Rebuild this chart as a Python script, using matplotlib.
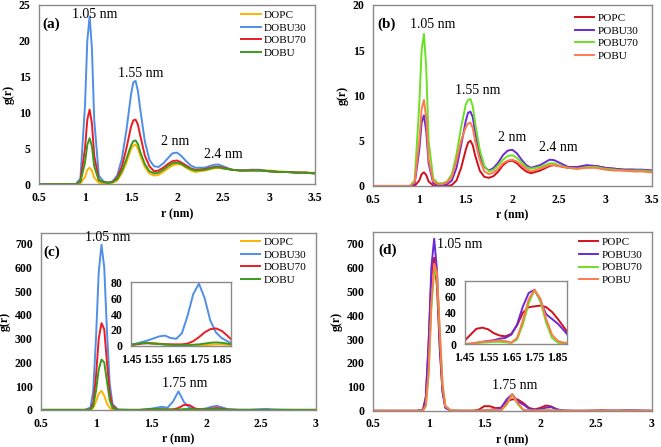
import matplotlib
matplotlib.use('Agg')
import matplotlib.pyplot as plt

plt.rcParams['font.family'] = ['Liberation Serif', 'DejaVu Serif']

# r grid for panels (a) and (b)
r_ab = [0.5, 0.9, 0.95, 1.0, 1.025, 1.05, 1.075, 1.1, 1.15, 1.2,
        1.25, 1.3, 1.35, 1.4, 1.45, 1.5, 1.525, 1.55, 1.575, 1.6,
        1.65, 1.7, 1.75, 1.8, 1.85, 1.9, 1.95, 2.0, 2.05, 2.1,
        2.15, 2.2, 2.3, 2.4, 2.45, 2.5, 2.6, 2.7, 2.8, 2.9,
        3.0, 3.1, 3.2, 3.3, 3.4, 3.5]

# (a) DO series
a_dopc = [0, 0, 0.1, 1.0, 2.0, 2.3, 1.9, 0.9, 0.2, 0.1,
          0.1, 0.2, 0.5, 1.5, 3.0, 4.9, 5.4, 5.5, 5.0, 4.0,
          2.4, 1.5, 1.2, 1.3, 1.7, 2.2, 2.6, 2.8, 2.7, 2.3,
          1.9, 1.7, 1.9, 2.2, 2.25, 2.2, 2.0, 1.9, 2.0, 2.0,
          1.9, 1.8, 1.7, 1.7, 1.6, 1.6]
a_dobu30 = [0, 0, 0.8, 11, 20, 23.4, 19, 9, 1.2, 0.4,
            0.2, 0.4, 1.2, 3.5, 7.5, 12.5, 14.2, 14.4, 13, 10.5,
            6, 3.4, 2.5, 2.4, 2.9, 3.6, 4.3, 4.4, 3.9, 3.2,
            2.6, 2.3, 2.3, 2.7, 2.75, 2.5, 2.0, 1.9, 2.0, 2.0,
            1.8, 1.7, 1.7, 1.6, 1.6, 1.5]
a_dobu70 = [0, 0, 0.4, 5, 9, 10.4, 8.5, 4, 0.6, 0.3,
            0.2, 0.3, 0.9, 2.4, 5, 8, 8.9, 9.0, 8.3, 6.8,
            4, 2.5, 1.8, 1.9, 2.3, 2.8, 3.2, 3.3, 3.0, 2.6,
            2.2, 2.0, 2.1, 2.4, 2.45, 2.3, 2.0, 1.9, 1.9, 1.9,
            1.8, 1.7, 1.7, 1.6, 1.6, 1.5]
a_dobu = [0, 0, 0.3, 3, 5.5, 6.4, 5.3, 2.5, 0.5, 0.3,
          0.2, 0.3, 0.7, 1.8, 3.5, 5.4, 6.0, 6.1, 5.6, 4.5,
          2.8, 1.8, 1.5, 1.6, 2.0, 2.5, 2.9, 3.0, 2.8, 2.4,
          2.1, 1.9, 2.0, 2.3, 2.35, 2.2, 2.0, 1.9, 1.9, 1.9,
          1.8, 1.7, 1.7, 1.6, 1.6, 1.5]

# (b) PO series
b_popc = [0, 0, 0, 0.6, 1.3, 1.5, 1.2, 0.5, 0.05, 0,
          0, 0, 0.1, 0.6, 2.0, 4.0, 4.8, 5.0, 4.5, 3.4,
          1.7, 1.0, 0.9, 1.1, 1.6, 2.3, 2.7, 2.8, 2.5, 2.0,
          1.6, 1.4, 1.7, 2.2, 2.3, 2.2, 2.0, 2.0, 2.2, 2.2,
          2.0, 1.9, 1.8, 1.8, 1.7, 1.7]
b_pobu30 = [0, 0, 0.2, 4, 7, 7.8, 6, 2.5, 0.3, 0.1,
            0.1, 0.2, 0.6, 2.0, 4.5, 7.2, 8.1, 8.2, 7.6, 6.0,
            3.4, 2.1, 1.7, 2.0, 2.6, 3.4, 3.9, 4.0, 3.6, 2.9,
            2.3, 2.0, 2.3, 2.9, 2.85, 2.6, 2.1, 2.1, 2.3, 2.2,
            2.0, 1.9, 1.8, 1.8, 1.8, 1.7]
b_pobu70 = [0, 0, 0.6, 9, 15, 16.8, 13, 5, 0.8, 0.3,
            0.3, 0.5, 1.3, 3.5, 6.5, 9.0, 9.5, 9.6, 8.8, 7.0,
            4.0, 2.2, 1.6, 1.8, 2.3, 2.9, 3.3, 3.4, 3.1, 2.6,
            2.1, 1.9, 2.1, 2.5, 2.5, 2.3, 2.0, 1.9, 2.1, 2.1,
            1.9, 1.8, 1.7, 1.7, 1.7, 1.6]
b_pobu = [0, 0, 0.4, 5, 8.5, 9.5, 7.5, 3, 0.5, 0.2,
          0.2, 0.4, 1.0, 2.8, 5, 6.5, 6.9, 7.0, 6.4, 5.0,
          2.9, 1.6, 1.3, 1.5, 1.9, 2.5, 2.8, 2.9, 2.7, 2.3,
          1.9, 1.6, 1.9, 2.3, 2.3, 2.2, 2.0, 1.9, 2.0, 2.0,
          1.8, 1.7, 1.7, 1.6, 1.6, 1.5]

# r grid for panels (c) and (d)
r_cd = [0.5, 0.9, 0.95, 0.975, 1.0, 1.025, 1.05, 1.075, 1.1, 1.125,
        1.15, 1.2, 1.3, 1.4, 1.45, 1.5, 1.55, 1.6, 1.65, 1.7,
        1.75, 1.8, 1.85, 1.9, 1.95, 2.0, 2.05, 2.1, 2.15, 2.2,
        2.3, 2.4, 2.5, 2.55, 2.6, 2.7, 2.8, 3.0]

c_dopc = [0, 0, 1, 8, 35, 68, 80, 60, 28, 8,
          2, 0, 0, 0, 1.5, 4, 3.5, 2, 1, 0.5,
          0.5, 1, 2, 1, 0.5, 1, 2, 2, 1, 0,
          0, 0, 0, 0, 0, 0, 0, 0]
c_dobu30 = [0, 0, 10, 80, 300, 580, 695, 600, 330, 110,
            25, 1, 0, 0, 2, 5, 9, 13, 9, 35,
            78, 33, 10, 3, 3, 6, 13, 17, 10, 3,
            0.5, 0.5, 3, 4, 2, 0.5, 0, 0]
c_dobu70 = [0, 0, 3, 30, 140, 300, 365, 340, 200, 70,
            15, 0.5, 0, 0, 1, 3, 3, 2, 2, 2,
            8, 21, 20, 6, 2, 3, 6, 8, 5, 1,
            0, 0, 0, 0, 0, 0, 0, 0]
c_dobu = [0, 0, 2, 15, 80, 170, 212, 200, 120, 40,
          8, 0.3, 0, 0, 1, 3.5, 3, 2, 1, 1,
          1.5, 3, 4, 2, 1, 2, 3, 3, 2, 0.5,
          0, 0, 0, 0, 0, 0, 0, 0]

d_popc = [0, 0, 5, 60, 280, 560, 640, 520, 260, 80,
          15, 0.5, 0, 0, 4.5, 19.5, 19, 11, 13, 40,
          48, 47, 32, 12, 6, 12, 22, 18, 6, 1,
          0, 0, 1, 2, 1, 0.5, 1, 0]
d_pobu30 = [0, 0, 3, 50, 280, 600, 720, 590, 280, 80,
            12, 0.5, 0, 0, 0, 1.5, 4, 7, 12, 48,
            69, 38, 26, 9, 4, 6, 13, 15, 6, 1,
            0, 0, 0.5, 1, 0.5, 0.5, 2, 0]
d_pobu70 = [0, 0, 1, 20, 150, 430, 590, 560, 330, 110,
            20, 1, 0, 0, 0, 1, 2.5, 3, 1.5, 25,
            69, 27, 2, 0, 0.5, 1, 2, 2, 0.5, 0,
            0, 0, 0, 0, 0, 0, 0, 0]
d_pobu = [0, 0, 1, 22, 160, 450, 615, 580, 340, 110,
          20, 1, 0, 0, 0, 2, 3.5, 5, 2, 30,
          69, 32, 4, 1.5, 1, 1, 2, 2, 0.5, 0,
          0, 0, 0, 0, 0, 0, 0, 0]

# insets, 1.45 - 1.9 nm
r_in = [1.45, 1.475, 1.5, 1.525, 1.55, 1.575, 1.6, 1.625, 1.65, 1.675,
        1.7, 1.725, 1.75, 1.775, 1.8, 1.825, 1.85, 1.875, 1.9]
ci_dopc = [1.5, 3, 4.5, 4, 3.5, 3, 2, 1.5, 1, 0.5,
           0.5, 0.5, 0.5, 1, 1.5, 2, 2, 1.5, 1]
ci_dobu30 = [2, 3, 5, 7, 9.5, 12, 13, 10, 9, 16,
             38, 65, 78, 60, 32, 17, 10, 6, 3]
ci_dobu70 = [1, 2, 3, 3.5, 3, 2.5, 2, 2, 2, 2,
             3, 6, 11, 17, 21, 22, 19, 13, 6]
ci_dobu = [1, 2.5, 3.5, 3.5, 3, 2.5, 2, 1.5, 1, 1,
           1, 1.5, 2, 3, 4, 4.5, 4, 3, 2]
di_popc = [4.5, 12, 19.5, 21, 19, 14, 11, 10, 13, 24,
           40, 47, 48, 49, 47, 41, 32, 22, 12]
di_pobu30 = [0, 0.5, 1.5, 3, 4, 5, 7, 8, 12, 25,
             48, 65, 69, 55, 38, 32, 26, 18, 9]
di_pobu70 = [0, 0.5, 1, 2, 2.5, 3, 3, 2.5, 1.5, 6,
             25, 52, 69, 55, 27, 8, 2, 0.5, 0]
di_pobu = [0, 1, 2, 3, 3.5, 4, 5, 4, 2, 8,
           30, 57, 69, 58, 32, 12, 4, 2, 1.5]

do_names = ['DOPC', 'DOBU30', 'DOBU70', 'DOBU']
po_names = ['POPC', 'POBU30', 'POBU70', 'POBU']
do_colors = ['#FFB300', '#4F8FE6', '#EC1C24', '#3A9A1E']
po_colors = ['#D2101C', '#6A2BD5', '#6CE024', '#FF7A4A']

FRAME = '#8a8a8a'
LW = 1.4


def style_axes(ax, xlim, ylim, xticks, yticks, xlabels=None, ylabel=True):
    ax.set_xlim(*xlim)
    ax.set_ylim(*ylim)
    ax.set_xticks(xticks)
    if xlabels is not None:
        ax.set_xticklabels(xlabels)
    ax.set_yticks(yticks)
    ax.tick_params(length=0, labelsize=8.5)
    ax.tick_params(axis='x', pad=5.5)
    ax.tick_params(axis='y', pad=6)
    for lab in ax.get_xticklabels() + ax.get_yticklabels():
        lab.set_fontweight('bold')
    for sp in ax.spines.values():
        sp.set_color(FRAME)
        sp.set_linewidth(1.0)
    if ylabel:
        ax.set_xlabel('r (nm)', fontsize=8.5, fontweight='bold', labelpad=3)
        ax.set_ylabel('g(r)', fontsize=8.5, fontweight='bold', labelpad=3)


def draw(ax, r, series, names, colors):
    for ys, nm, col in zip(series, names, colors):
        ax.plot(r, ys, color=col, lw=LW, label=nm)


def legend(ax, x, y):
    ax.legend(loc='upper left', bbox_to_anchor=(x, y), frameon=False,
              fontsize=8, handlelength=1.75, handletextpad=0.3,
              labelspacing=0.25, borderpad=0, borderaxespad=0)


fig = plt.figure(figsize=(6.61, 4.47), dpi=100)

# (a)
ax_a = fig.add_axes([0.059, 0.588, 0.4176, 0.401])
draw(ax_a, r_ab, [a_dopc, a_dobu30, a_dobu70, a_dobu], do_names, do_colors)
style_axes(ax_a, (0.5, 3.5), (0, 25), [0.5, 1, 1.5, 2, 2.5, 3, 3.5], [0, 5, 10, 15, 20, 25],
           ['0.5', '1', '1.5', '2', '2.5', '3', '3.5'])
legend(ax_a, 0.732, 0.97)
ax_a.text(0.634, 22.3, '(a)', fontsize=11, fontweight='bold', ha='center', va='center')
ax_a.text(1.11, 23.7, '1.05 nm', fontsize=10, ha='center', va='center')
ax_a.text(1.60, 15.5, '1.55 nm', fontsize=10, ha='center', va='center')
ax_a.text(1.98, 5.9, '2 nm', fontsize=10, ha='center', va='center')
ax_a.text(2.50, 4.2, '2.4 nm', fontsize=10, ha='center', va='center')

# (b)
ax_b = fig.add_axes([0.564, 0.584, 0.422, 0.405])
draw(ax_b, r_ab, [b_popc, b_pobu30, b_pobu70, b_pobu], po_names, po_colors)
style_axes(ax_b, (0.5, 3.5), (0, 20), [0.5, 1, 1.5, 2, 2.5, 3, 3.5], [0, 5, 10, 15, 20],
           ['0.5', '1', '1.5', '2', '2.5', '3', '3.5'])
legend(ax_b, 0.724, 0.953)
ax_b.text(0.645, 17.9, '(b)', fontsize=11, fontweight='bold', ha='center', va='center')
ax_b.text(1.14, 17.8, '1.05 nm', fontsize=10, ha='center', va='center')
ax_b.text(1.63, 10.6, '1.55 nm', fontsize=10, ha='center', va='center')
ax_b.text(2.0, 5.4, '2 nm', fontsize=10, ha='center', va='center')
ax_b.text(2.5, 4.3, '2.4 nm', fontsize=10, ha='center', va='center')

# (c)
ax_c = fig.add_axes([0.062, 0.083, 0.416, 0.396])
draw(ax_c, r_cd, [c_dopc, c_dobu30, c_dobu70, c_dobu], do_names, do_colors)
style_axes(ax_c, (0.5, 3.0), (0, 745), [0.5, 1, 1.5, 2, 2.5, 3], list(range(0, 701, 100)),
           ['0.5', '1', '1.5', '2', '2.5', '3'])
legend(ax_c, 0.727, 0.975)
ax_c.text(0.60, 662, '(c)', fontsize=11, fontweight='bold', ha='center', va='center')
ax_c.text(1.11, 725, '1.05 nm', fontsize=10, ha='center', va='center')
ax_c.text(1.81, 112, '1.75 nm', fontsize=10, ha='center', va='center')

# (d)
ax_d = fig.add_axes([0.564, 0.081, 0.422, 0.400])
draw(ax_d, r_cd, [d_popc, d_pobu30, d_pobu70, d_pobu], po_names, po_colors)
style_axes(ax_d, (0.5, 3.0), (0, 748), [0.5, 1, 1.5, 2, 2.5, 3], list(range(0, 701, 100)),
           ['0.5', '1', '1.5', '2', '2.5', '3'])
legend(ax_d, 0.738, 0.969)
ax_d.text(0.635, 672, '(d)', fontsize=11, fontweight='bold', ha='center', va='center')
ax_d.text(1.28, 697, '1.05 nm', fontsize=10, ha='center', va='center')
ax_d.text(1.77, 107, '1.75 nm', fontsize=10, ha='center', va='center')

# insets
in_ticks = [1.45, 1.55, 1.65, 1.75, 1.85]
in_labels = ['1.45', '1.55', '1.65', '1.75', '1.85']

ax_ci = fig.add_axes([0.198, 0.226, 0.151, 0.143])
draw(ax_ci, r_in, [ci_dopc, ci_dobu30, ci_dobu70, ci_dobu], do_names, do_colors)
style_axes(ax_ci, (1.45, 1.89), (0, 80), in_ticks, [0, 20, 40, 60, 80], in_labels, ylabel=False)

ax_di = fig.add_axes([0.703, 0.230, 0.155, 0.141])
draw(ax_di, r_in, [di_popc, di_pobu30, di_pobu70, di_pobu], po_names, po_colors)
style_axes(ax_di, (1.45, 1.89), (0, 80), in_ticks, [0, 20, 40, 60, 80], in_labels, ylabel=False)

fig.savefig('out.png', dpi=100)
